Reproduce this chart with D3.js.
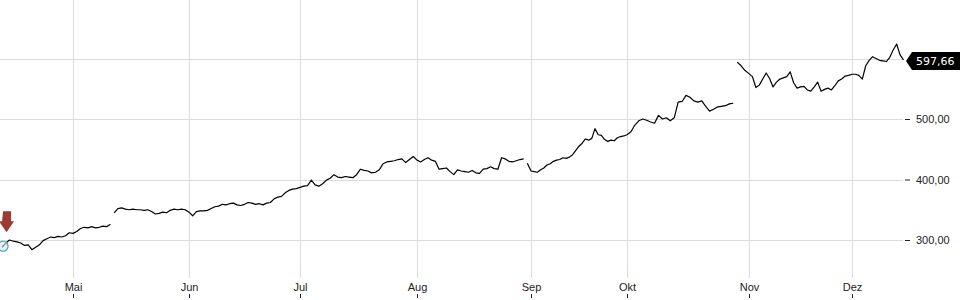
<!DOCTYPE html>
<html>
<head>
<meta charset="utf-8">
<script src="https://cdn.jsdelivr.net/npm/d3@7"></script>
<style>
  body { margin: 0; background: #fff; }
  svg { display: block; font-family: "DejaVu Sans", sans-serif; }
  .axis text { font-size: 11px; fill: #222; }
</style>
</head>
<body>
<div id="chart"></div>
<script>
// Data: daily closes, one array per month (first value = first day listed)
var aprStart = "2024-04-12";
var apr = [288, 295, 300, 298, 297, 295, 291, 292, 284, 288, 292, 299, 302, 305, 304, 306, 305, 307, 312];
var may = [311, 314, 319, 321, 320, 322, 320, 321, 323, 322, 326, 345, 352, 353, 351, 350, 351, 350, 350, 349,
           350, 347, 343, 344, 346, 345, 349, 351, 350, 351, 350];
var jun = [346, 340, 347, 348, 348, 349, 352, 355, 356, 359, 358, 360, 361, 358, 357, 359, 362, 361, 359, 360,
           358, 361, 362, 368, 371, 372, 378, 382, 384, 385];
var jul = [387, 389, 390, 399, 391, 389, 393, 399, 402, 408, 404, 403, 405, 404, 403, 408, 417, 415, 414, 411,
           412, 416, 426, 429, 430, 431, 433, 434, 428, 433, 438];
var aug = [432, 429, 433, 436, 432, 430, 417, 418, 419, 413, 408, 416, 414, 413, 412, 415, 411, 410, 417, 418,
           421, 418, 417, 436, 434, 430, 429, 431, 433, 434, 427];
var sep = [414, 413, 412, 416, 419, 424, 426, 430, 432, 433, 436, 435, 437, 441, 448, 455, 460, 467, 465, 468,
           484, 474, 473, 466, 463, 465, 464, 469, 471, 472];
var oct = [474, 479, 490, 497, 500, 498, 495, 493, 506, 500, 502, 497, 502, 528, 529, 539, 536, 530, 528, 530,
           521, 513, 516, 520, 521, 522, 525, 526, 594, 588, 580];
var nov = [575, 570, 552, 556, 566, 576, 567, 553, 561, 566, 568, 570, 578, 560, 551, 553, 554, 548, 546, 553,
           561, 546, 549, 551, 548, 555, 563, 566, 571, 572];
var dec = [574, 574, 572, 566, 588, 597, 603, 600, 597, 596, 595, 602, 614, 624, 606, 597.66];

// days after which the feed has a break
var gapsAfter = ["2024-05-11", "2024-08-30", "2024-10-28"];

var monthStarts = ["2024-05-01", "2024-06-01", "2024-07-01", "2024-08-01", "2024-09-01", "2024-10-01", "2024-11-01", "2024-12-01"];
var monthLabels = ["Mai", "Jun", "Jul", "Aug", "Sep", "Okt", "Nov", "Dez"];
var gridValues = [300, 400, 500, 600];
var yTicks = [300, 400, 500];   // 600 sits under the last-price box

// chart setup
var svgWidth = 960;
var svgHeight = 300;
var plotRight = 905;
var plotBottom = 278;

var parseDate = d3.timeParse("%Y-%m-%d");
var fmtDay = d3.timeFormat("%Y-%m-%d");

// build the series
var points = [];
var day = parseDate(aprStart);
[apr, may, jun, jul, aug, sep, oct, nov, dec].forEach(function(month) {
  month.forEach(function(v) {
    points.push({ date: day, value: v });
    if (gapsAfter.indexOf(fmtDay(day)) >= 0) points.push({ date: day, value: null });
    day = d3.timeDay.offset(day, 1);
  });
});

var svg = d3.select("#chart")
            .append("svg")
            .attr("width", svgWidth)
            .attr("height", svgHeight);

// x scale: piecewise by month, the months are not equally wide on this chart
var xDomain = [parseDate("2024-04-01")].concat(monthStarts.map(parseDate), [parseDate("2024-12-31")]);
var xScale = d3.scaleTime()
               .domain(xDomain)
               .range([-39, 73, 189, 300, 417, 531, 627, 749, 852, 955]);

var yScale = d3.scaleLinear()
               .domain([300, 500])
               .range([240, 119]);

var de = d3.formatLocale({ decimal: ",", thousands: ".", grouping: [3], currency: ["", " €"] });
var fmtPrice = de.format(".2f");

// gridlines
svg.append("g")
   .selectAll("line")
   .data(monthStarts.map(parseDate))
   .enter()
   .append("line")
   .attr("x1", d => Math.round(xScale(d)) + 0.5)
   .attr("x2", d => Math.round(xScale(d)) + 0.5)
   .attr("y1", 0)
   .attr("y2", plotBottom)
   .attr("stroke", "#dcdcdc");

svg.append("g")
   .selectAll("line")
   .data(gridValues)
   .enter()
   .append("line")
   .attr("x1", 0)
   .attr("x2", plotRight - 2)
   .attr("y1", d => Math.round(yScale(d)) + 0.5)
   .attr("y2", d => Math.round(yScale(d)) + 0.5)
   .attr("stroke", "#dcdcdc");

// x axis
var xAxis = d3.axisBottom(xScale)
              .tickValues(monthStarts.map(parseDate))
              .tickFormat((d, i) => monthLabels[i])
              .tickSize(0)
              .tickPadding(3);

var xg = svg.append("g")
            .attr("class", "axis")
            .attr("transform", `translate(0, ${plotBottom + 2})`)
            .call(xAxis);
xg.select(".domain").remove();
xg.selectAll(".tick")
  .append("line")
  .attr("y1", 14)
  .attr("y2", 18)
  .attr("stroke", "#222");

// y axis on the right
var yAxis = d3.axisRight(yScale)
              .tickValues(yTicks)
              .tickFormat(fmtPrice)
              .tickSize(5)
              .tickPadding(6);

var yg = svg.append("g")
            .attr("class", "axis")
            .attr("transform", `translate(${plotRight}, 0)`)
            .call(yAxis);
yg.select(".domain").remove();
yg.selectAll(".tick line").attr("stroke", "#222");

// price line
var line = d3.line()
             .defined(d => d.value !== null)
             .x(d => xScale(d.date))
             .y(d => yScale(d.value));

svg.append("path")
   .datum(points)
   .attr("d", line)
   .attr("fill", "none")
   .attr("stroke", "#000")
   .attr("stroke-width", 1.2)
   .attr("stroke-linejoin", "round");

// marker at the start: circle + red arrow
var first = points[0];
var fx = xScale(first.date);
var fy = yScale(first.value);

svg.append("circle")
   .attr("cx", fx + 1)
   .attr("cy", fy - 1)
   .attr("r", 5)
   .attr("fill", "#cfe9ee")
   .attr("fill-opacity", 0.6)
   .attr("stroke", "#4aa0b0")
   .attr("stroke-width", 1.2);

var ax = fx + 5;
var ay = fy - 15;
svg.append("path")
   .attr("d", `M${ax - 4},${ay - 21} h8 v10 h3 l-7.5,11 l-7.5,-11 h3 Z`)
   .attr("fill", "#9e3a34");

// last price label
var last = points[points.length - 1];
var ly = Math.round(yScale(last.value)) + 1;
svg.append("path")
   .attr("d", `M${plotRight + 1},${ly} L${plotRight + 7},${ly - 9} H${svgWidth} V${ly + 9} H${plotRight + 7} Z`)
   .attr("fill", "#000");

svg.append("text")
   .attr("x", plotRight + 11)
   .attr("y", ly + 4)
   .attr("fill", "#fff")
   .style("font-size", "11px")
   .text(fmtPrice(last.value));
</script>
</body>
</html>
